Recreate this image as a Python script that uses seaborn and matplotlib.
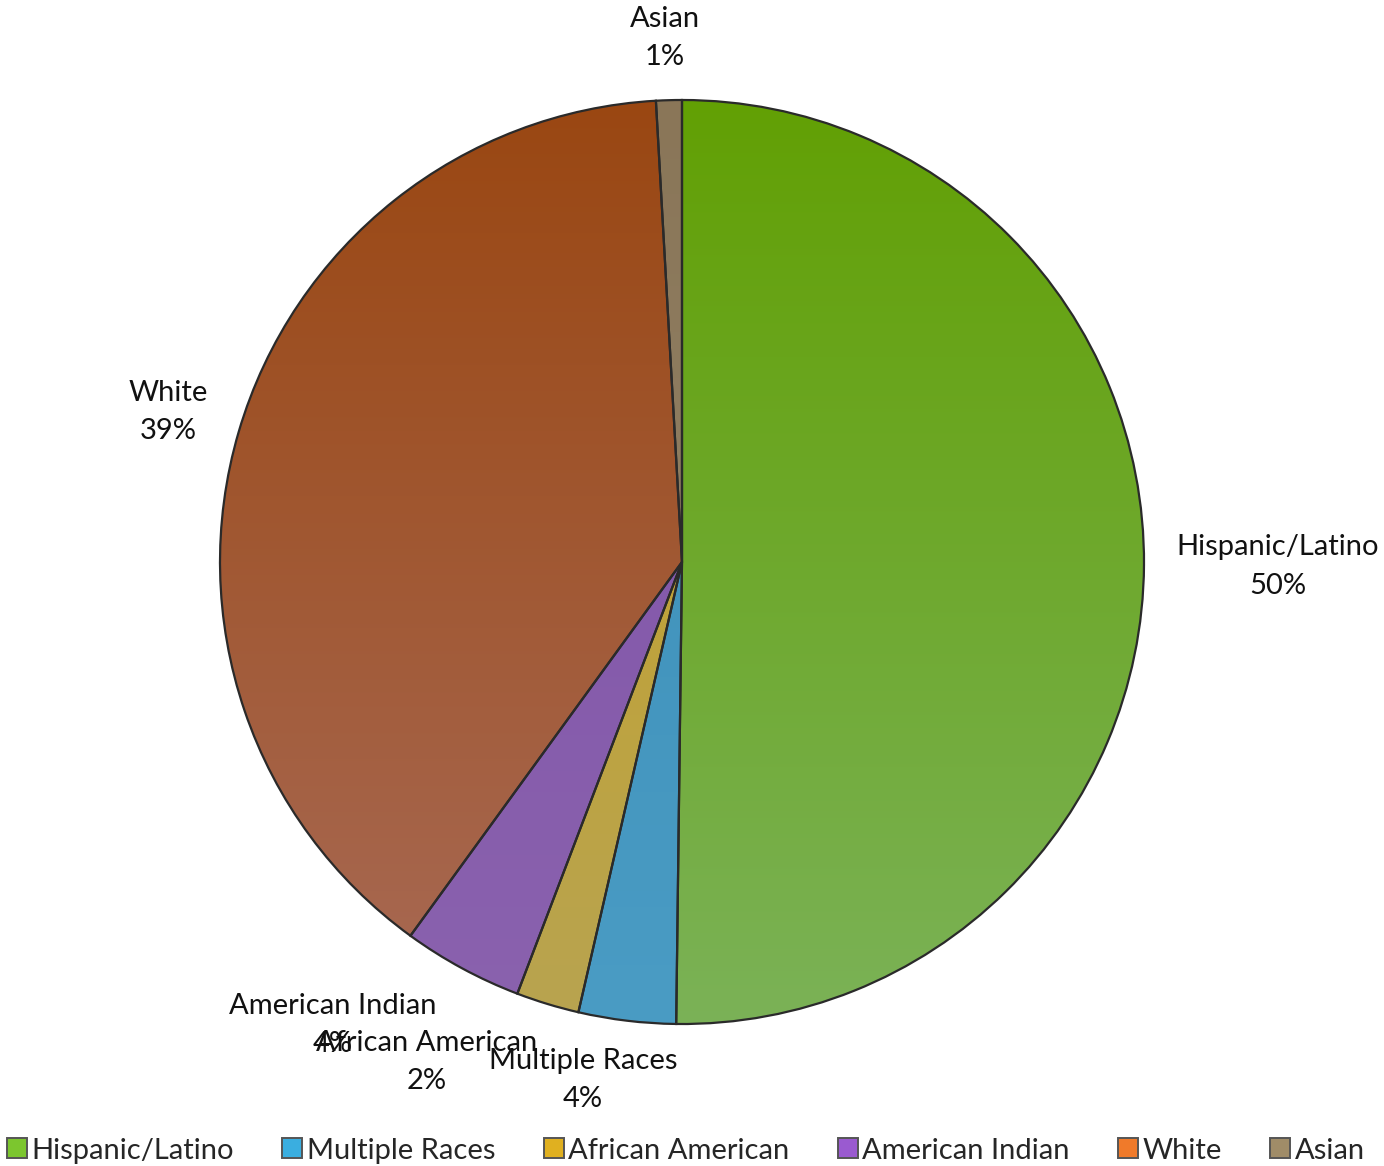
import numpy as np
import matplotlib.pyplot as plt
import seaborn as sns
from matplotlib.colors import to_rgb
from matplotlib.lines import Line2D

# ── Data ───────────────────────────────────────────────────────────────
groups = ["Hispanic/Latino", "Multiple Races", "African American",
          "American Indian", "White", "Asian"]
shares = [50.2, 3.4, 2.2, 4.2, 39.1, 0.9]
pct_labels = ["50%", "4%", "2%", "4%", "39%", "1%"]

# ── Style ──────────────────────────────────────────────────────────────
top_colors = ["#62a004", "#3a8cb6", "#c8a124", "#7f52a8", "#9a4712", "#8a7658"]
bot_colors = ["#7bb257", "#4a9cc4", "#b8a450", "#8a62ae", "#a86a55", "#94866c"]
legend_colors = ["#7cc62e", "#3aaee0", "#e0b020", "#9a5ad0", "#f07a2a", "#a08c68"]
# label centres in units of the pie radius
label_xy = [(1.29, -0.01), (-0.214, -1.121), (-0.552, -1.082),
            (-0.755, -1.002), (-1.113, 0.325), (-0.037, 1.134)]

sns.set_theme(style="white")
plt.rcParams["font.family"] = ["Lato", "DejaVu Sans"]
FS = 21

fig = plt.figure(figsize=(13.84, 11.66), dpi=100)
cx, cy, r = 682, 562, 462
W, H = 1384, 1166
ax = fig.add_axes([(cx - r) / W, (H - cy - r) / H, 2 * r / W, 2 * r / H])

wedges, _ = ax.pie(shares, startangle=90, counterclock=False, radius=1,
                   colors=top_colors,
                   wedgeprops=dict(edgecolor="#2a2a2a", linewidth=1.6))

# vertical gradient inside each wedge
n = 256
t = np.linspace(0, 1, n)[:, None]
for w, c0, c1 in zip(wedges, top_colors, bot_colors):
    a, b = np.array(to_rgb(c0)), np.array(to_rgb(c1))
    grad = (a[None, :] * (1 - t) + b[None, :] * t)[:, None, :]
    grad = np.repeat(grad, 2, axis=1)
    im = ax.imshow(grad, extent=[-1, 1, -1, 1], origin="upper",
                   aspect="auto", zorder=w.get_zorder() - 0.01,
                   interpolation="bilinear")
    im.set_clip_path(w)
    w.set_facecolor("none")
    w.set_zorder(w.get_zorder() + 1)
ax.set_aspect("auto")
ax.set_xlim(-1, 1)
ax.set_ylim(-1, 1)
ax.axis("off")

for g, p, (x, y) in zip(groups, pct_labels, label_xy):
    ax.text(x, y, f"{g}\n{p}", ha="center", va="center", fontsize=FS,
            color="#111111", linespacing=1.6, clip_on=False)

handles = [Line2D([0], [0], marker="s", linestyle="none", markersize=15,
                  markerfacecolor=c, markeredgecolor="#555555",
                  markeredgewidth=1.4) for c in legend_colors]
fig.legend(handles, groups, loc="lower center", ncol=6, frameon=False,
           fontsize=FS, bbox_to_anchor=(0.495, -0.013), handletextpad=0.1,
           columnspacing=1.6, handlelength=0.8, borderaxespad=0.2)

fig.savefig("out.png", dpi=100, facecolor="white")
